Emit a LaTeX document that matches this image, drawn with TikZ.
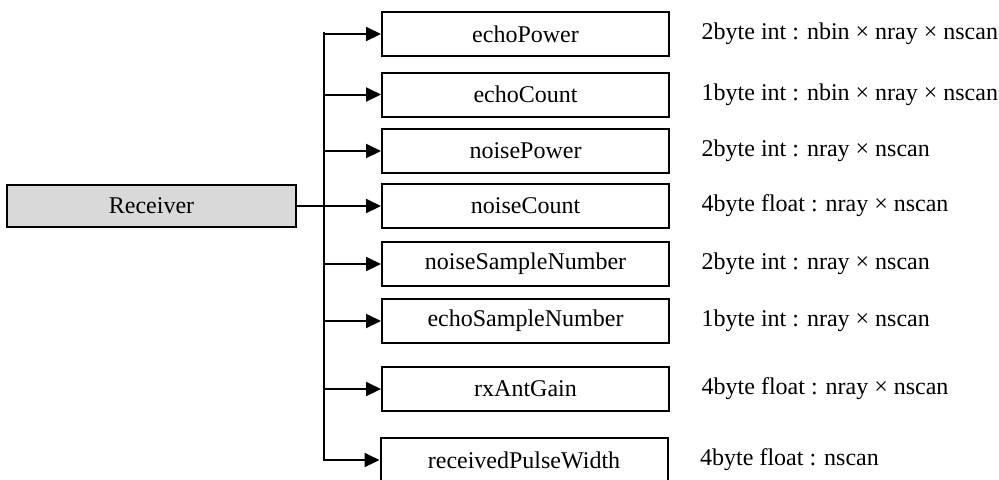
\documentclass[tikz,border=0pt]{standalone}
\usepackage{fontspec}
\setmainfont{Liberation Serif}
\usetikzlibrary{arrows.meta,positioning}

\begin{document}
\begin{tikzpicture}[x=0.5pt, y=-0.5pt, line width=1pt,
    font=\fontsize{12}{14}\selectfont,
    field/.style={draw, minimum width=143.5pt, minimum height=22pt, inner sep=0pt},
    arr/.style={-{Triangle[length=7.5pt,width=7pt]}}]
    \useasboundingbox (0,0) rectangle (999,479);

    % Receiver block
    \node[draw, fill=gray!30, minimum width=144.5pt, minimum height=21pt] (rx) at (151.5,206) {Receiver};

    % Trunk line
    \coordinate (trunkTop) at (324,33);
    \coordinate (trunkBot) at (324,460);
    \draw[line width=1.4pt, line cap=rect] (trunkTop) -- (trunkBot);
    \draw[line width=1.4pt] (rx.east) -- (rx.east -| trunkTop);

    % Fields with their data types
    \foreach \name/\xpos/\ypos/\desc in {
        echoPower/525.5/34/2byte int : nbin × nray × nscan,
        echoCount/525.5/94.5/1byte int : nbin × nray × nscan,
        noisePower/525.5/151/2byte int : nray × nscan,
        noiseCount/525.5/206/4byte float : nray × nscan,
        noiseSampleNumber/525.5/264/2byte int : nray × nscan,
        echoSampleNumber/525.5/321/1byte int : nray × nscan,
        rxAntGain/525.5/389/4byte float : nray × nscan,
        receivedPulseWidth/524/460/4byte float : nscan} {
        \node[field] (\name) at (\xpos,\ypos) {\name};
        \node[right=12pt of \name] (\name-t) {\desc};
        \draw[arr] (\name.west -| trunkTop) -- (\name.west);
    }
\end{tikzpicture}
\end{document}
